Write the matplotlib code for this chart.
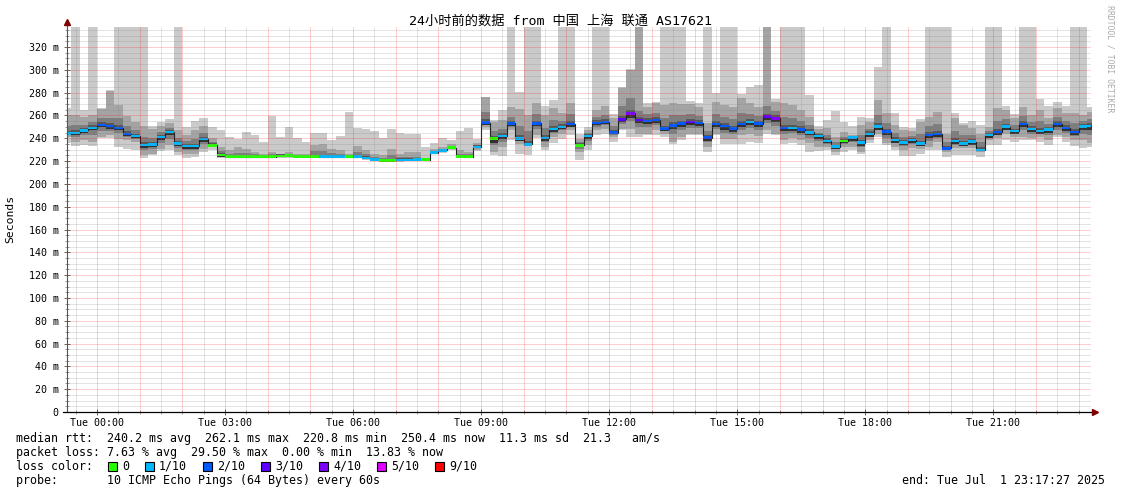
import matplotlib
matplotlib.use('Agg')
import matplotlib.pyplot as plt
import numpy as np
from matplotlib.patches import Rectangle
from matplotlib.lines import Line2D

# ---------------- data (12-minute consolidated steps, first step starts Mon 23:12) -------------
FIRST_STEP_HOUR = -0.8      # hours relative to Tue 00:00
STEP_HOURS = 0.2            # 12 minutes
VIEW_START = -0.7036        # Mon 23:17:47
VIEW_END = 23.2908          # Tue 23:17:27

median = [244.1, 244.7, 246.8, 249.1, 251.8, 250.6, 249.1, 243.8, 242.0, 234.1,
          234.4, 240.9, 245.3, 235.3, 233.0, 233.0, 239.4, 233.8, 225.3, 223.8,
          223.8, 223.8, 223.8, 223.8, 223.8, 224.4, 225.0, 224.2, 224.2, 224.2,
          224.0, 224.0, 224.0, 224.0, 224.0, 222.6, 221.2, 220.6, 220.6, 220.9,
          220.9, 221.2, 221.2, 227.4, 229.4, 231.8, 224.1, 224.0, 232.4, 253.8,
          239.7, 242.0, 253.0, 239.7, 234.7, 253.0, 240.3, 248.0, 250.0, 252.4,
          233.8, 241.8, 253.5, 254.4, 245.0, 256.5, 261.8, 255.9, 255.3, 255.9,
          248.5, 251.2, 253.0, 254.4, 253.5, 240.6, 252.4, 250.6, 248.5, 252.4,
          254.4, 252.9, 258.9, 257.4, 249.2, 249.2, 247.8, 245.2, 242.0, 237.6,
          232.6, 237.6, 240.5, 236.1, 243.7, 250.1, 245.7, 238.4, 236.4, 238.4,
          235.5, 242.9, 243.7, 231.2, 237.6, 235.5, 237.0, 229.7, 242.9, 245.5,
          250.1, 246.3, 252.4, 248.0, 246.3, 247.8, 252.4, 249.2, 245.5, 250.1,
          250.7]

loss_tenths = [1, 1, 1, 1, 2, 2, 2, 2, 1, 1,
               1, 1, 1, 1, 1, 1, 1, 0, 0, 0,
               0, 0, 0, 0, 0, 0, 0, 0, 0, 0,
               1, 1, 1, 0, 1, 1, 1, 0, 0, 1,
               1, 1, 0, 1, 1, 0, 0, 0, 1, 2,
               0, 1, 2, 1, 1, 2, 1, 1, 1, 2,
               0, 1, 2, 2, 2, 3, 4, 3, 2, 2,
               2, 2, 2, 3, 2, 2, 2, 2, 2, 2,
               1, 2, 3, 4, 2, 1, 2, 1, 1, 1,
               1, 0, 1, 1, 1, 1, 2, 1, 1, 1,
               1, 2, 2, 2, 1, 1, 1, 1, 1, 2,
               1, 1, 2, 1, 1, 1, 2, 2, 2, 1,
               1]

smoke_max = [266.2, 345, 264.8, 345, 266.5, 282.0, 345, 345, 345, 345,
             250.7, 254.5, 256.9, 345, 250.2, 255.4, 257.8, 250.2, 247.2, 241.4,
             239.1, 245.5, 242.9, 236.7, 259.8, 241.4, 250.2, 240.5, 236.7, 244.9,
             244.9, 238.5, 242.0, 263.0, 249.3, 247.8, 246.4, 240.0, 247.8, 244.3,
             243.5, 243.5, 232.4, 236.2, 240.3, 238.8, 246.5, 249.1, 239.7, 276.5,
             255.9, 264.7, 345, 280.9, 345, 345, 268.2, 273.5, 345, 345,
             244.1, 250.0, 345, 345, 260.9, 284.5, 300.5, 345, 270.6, 272.0,
             345, 345, 345, 272.5, 270.6, 345, 280.0, 345, 345, 278.5,
             284.6, 287.0, 345, 274.7, 345, 345, 345, 277.9, 250.7, 256.0,
             263.9, 254.5, 250.7, 258.9, 258.0, 302.7, 345, 261.9, 250.2, 249.4,
             256.9, 345, 345, 345, 262.0, 253.6, 255.1, 251.6, 345, 345,
             268.3, 261.0, 345, 345, 274.7, 268.6, 272.0, 268.6, 345, 345,
             267.7]

smoke_min = [235.9, 233.0, 233.8, 233.0, 240.0, 240.5, 232.4, 230.9, 230.0, 222.9,
             225.0, 228.5, 230.0, 225.0, 222.9, 223.5, 227.9, 229.4, 222.9, 222.4,
             222.4, 222.4, 222.4, 222.4, 222.4, 222.4, 222.4, 222.4, 222.4, 222.4,
             222.4, 222.4, 222.4, 222.4, 222.4, 220.6, 219.7, 219.1, 219.1, 219.1,
             219.7, 219.7, 219.7, 226.0, 227.5, 230.0, 222.9, 222.9, 228.8, 247.1,
             225.0, 224.1, 238.8, 226.5, 225.0, 240.0, 230.0, 235.9, 239.7, 242.6,
             220.6, 229.4, 242.6, 244.1, 236.8, 247.1, 241.2, 241.2, 242.6, 242.6,
             241.2, 235.3, 238.2, 242.6, 242.6, 227.9, 242.6, 235.3, 235.3, 235.3,
             236.8, 235.5, 244.1, 242.9, 235.0, 236.0, 234.0, 228.2, 229.0, 229.7,
             225.4, 228.2, 229.7, 226.2, 235.5, 240.7, 234.0, 229.7, 224.5, 224.5,
             226.2, 229.7, 229.7, 224.0, 225.4, 225.4, 225.4, 223.3, 234.0, 234.0,
             238.4, 237.0, 238.4, 238.4, 237.0, 234.0, 241.3, 237.0, 233.5, 231.7,
             232.0]

band2_hi = [260.3, 260.3, 258.8, 260.3, 265.3, 281.5, 269.1, 259.7, 254.4, 250.6,
            248.0, 251.0, 253.0, 247.0, 243.2, 247.0, 250.6, 240.6, 232.4, 230.0,
            232.4, 230.9, 228.0, 226.5, 228.0, 226.5, 228.0, 226.5, 226.5, 233.8,
            235.3, 230.9, 229.4, 226.5, 233.0, 230.0, 226.5, 225.0, 230.9, 226.5,
            228.0, 228.0, 222.0, 230.9, 232.4, 235.3, 229.4, 228.0, 236.0, 275.9,
            254.4, 255.9, 267.1, 265.3, 260.3, 271.2, 260.3, 266.2, 261.8, 271.2,
            239.7, 247.0, 264.7, 268.2, 257.4, 283.8, 300.0, 345, 267.1, 270.6,
            269.1, 270.6, 270.0, 270.0, 267.1, 253.0, 272.0, 269.1, 267.1, 275.0,
            270.6, 267.7, 345, 272.0, 270.6, 269.1, 264.8, 259.0, 248.0, 248.7,
            241.4, 245.7, 242.9, 251.6, 254.0, 273.5, 261.8, 251.6, 247.2, 246.0,
            254.5, 259.0, 263.3, 244.1, 257.4, 251.6, 248.7, 244.1, 250.1, 266.2,
            265.0, 257.4, 267.7, 260.4, 264.8, 257.4, 266.2, 261.8, 261.8, 260.4,
            263.0]

band2_lo = [241.2, 236.8, 238.2, 236.8, 241.2, 242.6, 239.7, 238.2, 236.8, 225.0,
            226.5, 230.9, 233.8, 227.9, 226.5, 226.5, 230.9, 232.4, 223.5, 223.0,
            223.0, 223.0, 223.0, 223.0, 223.0, 223.4, 223.8, 223.2, 223.2, 223.2,
            223.0, 223.0, 223.0, 223.0, 223.0, 221.5, 220.5, 220.0, 220.0, 220.0,
            220.0, 220.6, 220.2, 226.8, 228.4, 230.9, 223.5, 223.5, 229.4, 250.0,
            227.9, 232.4, 247.0, 235.3, 233.8, 242.6, 232.4, 241.2, 244.1, 247.0,
            227.9, 233.8, 247.0, 248.5, 241.2, 248.5, 248.5, 244.1, 244.1, 247.0,
            244.1, 236.8, 241.2, 244.1, 244.1, 232.4, 244.1, 239.7, 239.7, 242.6,
            244.1, 241.6, 247.0, 244.1, 238.4, 239.9, 238.4, 235.5, 232.6, 232.6,
            228.2, 232.6, 232.6, 228.2, 238.4, 244.1, 235.5, 232.6, 229.7, 231.2,
            231.0, 232.6, 237.0, 228.2, 231.2, 231.2, 231.2, 228.2, 238.4, 239.9,
            244.1, 241.3, 241.3, 239.9, 241.3, 238.4, 242.9, 241.3, 238.4, 238.4,
            235.5]

band3_hi = [251, 252, 252, 254, 258, 258, 258, 251, 247.5, 241.5,
            240.5, 245.5, 249, 240.5, 237.5, 239, 244.5, 237, 228.5, 226.5,
            227.5, 226.8, 225.8, 225.3, 225.8, 225.8, 226.5, 225.6, 225.6, 228.5,
            229, 227, 226.5, 225.5, 228, 226, 223.5, 222.5, 225, 223.3,
            224, 224, 222, 229, 230.8, 233.5, 226.5, 226, 234, 263,
            246, 248, 259, 251, 246, 261, 249, 256, 255, 261,
            236.5, 244.5, 258.5, 260.5, 250.5, 268, 275, 264, 261, 262,
            258, 260, 260.5, 261.5, 259.5, 246, 261, 259, 257, 262,
            261.5, 259.5, 268, 264, 259, 258, 255.5, 251.5, 245, 242.5,
            236.5, 241, 242, 243, 248.5, 260, 253, 244.5, 241.5, 242,
            244, 250.5, 252.5, 237, 246.5, 243, 242.5, 236.5, 246.5, 255,
            257, 251.5, 259.5, 254, 255, 252.5, 259, 255, 253, 255,
            256.5]

band3_lo = [242.5, 241, 242.5, 243, 246.5, 246.5, 244.5, 241, 239.5, 229.5,
            230.5, 236, 239.5, 231.5, 230, 230, 235, 232.8, 224.4, 223.3,
            223.3, 223.3, 223.3, 223.3, 223.3, 223.9, 224.5, 223.7, 223.7, 223.7,
            223.5, 223.5, 223.5, 223.5, 223.5, 222.1, 220.7, 220.1, 220.1, 220.4,
            220.4, 220.7, 220.7, 226.9, 228.9, 231.3, 223.6, 223.5, 231.9, 252,
            234, 237, 250, 237.5, 234.2, 248, 236.5, 244.5, 247, 249.5,
            231, 238, 250, 251.5, 243, 252.5, 255, 250, 250, 251.5,
            246.5, 244, 247, 249, 249, 236.5, 248, 245, 244, 247.5,
            249, 247, 253, 251, 244, 244.5, 243, 240.5, 237.5, 235,
            230.5, 235, 236.5, 232, 241, 247, 240.5, 235.5, 233, 235,
            233, 238, 240.5, 229.7, 234.5, 233.5, 234, 229, 240.5, 242.5,
            247, 244, 247, 244, 244, 243, 247.5, 245, 242, 244,
            243]

core_hi = [246.5, 247, 249, 251.5, 254, 253, 252, 246, 244, 236.5,
           236.5, 243, 247.5, 237.5, 235, 235, 241.5, 235.5, 227, 225.3,
           225.3, 225.3, 225.3, 225.3, 225.3, 225.9, 226.5, 225.7, 225.7, 225.7,
           225.5, 225.5, 225.5, 225.5, 225.5, 224.1, 222.7, 222.1, 222.1, 222.4,
           222.4, 222.7, 222.7, 228.9, 230.9, 233.3, 225.6, 225.5, 233.9, 256.5,
           242, 244.5, 255.5, 242.5, 237.5, 255.5, 243, 250.5, 252.5, 255,
           235.5, 243.5, 256, 257, 247.5, 259.5, 264.5, 258.5, 258, 258.5,
           251, 254, 255.5, 257, 256, 243, 255, 253, 251, 255,
           257, 255.5, 261.5, 260, 252, 252, 250.5, 248, 244, 240,
           234.5, 239.5, 242, 238.5, 246, 253, 248.5, 241, 238.5, 240.5,
           238, 245.5, 246.5, 233.5, 240.5, 238, 239.5, 232, 245, 248,
           252.5, 248.5, 255, 250.5, 249, 250, 255, 251.5, 248, 252.5,
           253]

core_lo = [243, 243, 245, 247, 250, 248.5, 247, 242, 240, 231.5,
           232, 238.5, 242.5, 233, 231, 231, 237, 233, 224, 223,
           223, 223, 223, 223, 223, 223.6, 224.2, 223.4, 223.4, 223.4,
           223.2, 223.2, 223.2, 223.2, 223.2, 221.8, 220.4, 220, 220, 220.2,
           220.2, 220.5, 220.5, 226.8, 228.6, 231, 223.5, 223.5, 231.5, 252,
           236, 239, 251, 237.5, 234.2, 250.5, 238, 245.5, 248, 250,
           232, 239.5, 251.5, 252.5, 243.5, 254, 258, 253, 252.5, 253,
           246.5, 248, 250, 251.5, 251, 238, 249.5, 247.5, 245.5, 249.5,
           251.5, 250, 256, 254.5, 246, 246.5, 245, 242.5, 239.5, 235.5,
           230.5, 235.5, 238, 233.5, 241.5, 247.5, 243, 236, 234, 236,
           233.5, 240, 241, 229.7, 235, 233.5, 234.5, 229, 240.5, 243,
           247.5, 244, 249.5, 245.5, 244, 245, 249.5, 246.5, 243, 247,
           247.5]

loss_levels = [0, 1, 2, 3, 4, 5, 9]
loss_labels = ['0', '1/10', '2/10', '3/10', '4/10', '5/10', '9/10']
loss_colors = ['#26ff00', '#00b8ff', '#0059ff', '#5e00ff', '#7e00ff', '#dd00ff', '#ff0000']

title = '24小时前的数据 from 中国 上海 联通 AS17621'
ylabel = 'Seconds'
xtick_hours = [0, 3, 6, 9, 12, 15, 18, 21]
xtick_labels = ['Tue 00:00', 'Tue 03:00', 'Tue 06:00', 'Tue 09:00',
                'Tue 12:00', 'Tue 15:00', 'Tue 18:00', 'Tue 21:00']
ytick_values = list(range(0, 321, 20))
legend_lines = [
    'median rtt:  240.2 ms avg  262.1 ms max  220.8 ms min  250.4 ms now  11.3 ms sd  21.3   am/s',
    'packet loss: 7.63 % avg  29.50 % max  0.00 % min  13.83 % now',
    'loss color:',
    'probe:       10 ICMP Echo Pings (64 Bytes) every 60s',
]
end_text = 'end: Tue Jul  1 23:17:27 2025'
credit = 'RRDTOOL / TOBI OETIKER'

# ---------------- figure ----------------
MONO = ['DejaVu Sans Mono', 'Noto Sans CJK SC']
plt.rcParams['font.family'] = MONO
W, H = 1121, 494
fig = plt.figure(figsize=(W / 100, H / 100), dpi=100)
fig.patch.set_facecolor('white')
PL, PR, PB, PT = 67, 1091, 412, 27.5
ax = fig.add_axes([PL / W, (H - PB) / H, (PR - PL) / W, (PB - PT) / H])
ax.set_facecolor('white')
YMAX = 337.1
ax.set_xlim(VIEW_START, VIEW_END)
ax.set_ylim(0, YMAX)

n = len(median)
starts = FIRST_STEP_HOUR + STEP_HOURS * np.arange(n)
edges = np.append(starts, starts[-1] + STEP_HOURS)


def ext(a):
    a = np.asarray(a, dtype=float)
    return np.append(a, a[-1])


layers = [(smoke_min, smoke_max, '#cacaca'),
          (band2_lo, band2_hi, '#a4a4a4'),
          (band3_lo, band3_hi, '#7e7e7e'),
          (core_lo, core_hi, '#585858'),
          (core_lo, median, '#323232')]
for lo, hi, col in layers:
    ax.fill_between(edges, ext(lo), ext(hi), step='post', color=col, linewidth=0, zorder=2)

ax.step(edges, ext(median), where='post', color='#202020', lw=0.8, zorder=3)

cmap = dict(zip(loss_levels, loss_colors))
bar_cols = [cmap[v] for v in loss_tenths]
med = np.asarray(median)
ax.bar(starts, 2.2, bottom=med - 1.1, width=STEP_HOURS, align='edge',
       color=bar_cols, linewidth=0, zorder=4)

# grid (dotted, drawn on top like rrdtool)
hours = np.arange(0, 24)
halfs = np.arange(-0.5, 23.5, 1.0)
minor_y = [v for v in np.arange(5, YMAX, 5) if v % 20 != 0]
major_y = list(range(20, 321, 20))
RED = (1.0, 0.0, 0.0, 0.38)
GRAY = (0.5, 0.5, 0.5, 0.42)
gkw = dict(lw=0.72, dashes=(1, 1), zorder=5, snap=True, dash_capstyle='butt')
for h in halfs:
    ax.plot([h, h], [0, YMAX], color=GRAY, **gkw)
for h in hours:
    ax.plot([h, h], [0, YMAX], color=RED, **gkw)
for v in minor_y:
    ax.plot([VIEW_START, VIEW_END], [v, v], color=GRAY, **gkw)
for v in major_y:
    ax.plot([VIEW_START, VIEW_END], [v, v], color=RED, **gkw)

# ticks
ax.set_yticks(ytick_values)
ax.set_yticklabels(['0' if v == 0 else '%d m' % v for v in ytick_values])
ax.set_yticks(minor_y, minor=True)
ax.set_xticks(xtick_hours)
ax.set_xticklabels(xtick_labels)
ax.set_xticks(np.arange(-0.5, 23.3, 0.5), minor=True)
ax.tick_params(axis='both', which='major', direction='inout', length=4, width=0.7,
               color='#666666', labelsize=7.2, labelcolor='black')
ax.tick_params(axis='both', which='minor', direction='inout', length=2.5, width=0.6, color='#888888')
ax.tick_params(axis='y', which='major', pad=4)
ax.tick_params(axis='x', which='major', pad=2.5)
for s in ax.spines.values():
    s.set_visible(False)

# axis lines with arrows
top_ext = 1 + 5.5 / (PB - PT)
ax.add_line(Line2D([0, 0], [0, top_ext], transform=ax.transAxes, color='#555555', lw=0.8, clip_on=False, zorder=6))
ax.add_line(Line2D([-4 / 1024, 1 + 2 / 1024], [0, 0], transform=ax.transAxes, color='black', lw=0.9, clip_on=False, zorder=6))
ax.plot([0], [top_ext], marker='^', color='#800000', markersize=4.5, transform=ax.transAxes, clip_on=False, zorder=7)
ax.plot([1 + 4 / 1024], [0], marker='>', color='#800000', markersize=4.5, transform=ax.transAxes, clip_on=False, zorder=7)

# texts
fig.text(560.5 / W, 1 - 21 / H, title, ha='center', va='center', fontsize=9.5, family=MONO)
fig.text(10 / W, 1 - 219 / H, ylabel, ha='center', va='center', rotation=90, fontsize=8.2)
fig.text(1110 / W, 1 - 59 / H, credit, ha='center', va='center', rotation=270, fontsize=5.9, color='#aaaaaa')

ly = [438, 452, 466, 480]
for txt, y in zip(legend_lines, ly):
    fig.text(16 / W, 1 - y / H, txt, ha='left', va='center', fontsize=8.4)
fig.text(1105 / W, 1 - 480 / H, end_text, ha='right', va='center', fontsize=8.4)

box_x = [108, 145, 203, 261, 319, 377, 435]
for bx, col, lab in zip(box_x, loss_colors, loss_labels):
    fig.add_artist(Rectangle((bx / W, 1 - 470.5 / H), 9 / W, 9 / H, transform=fig.transFigure,
                             facecolor=col, edgecolor='black', lw=0.8))
    fig.text((bx + 14) / W, 1 - 466 / H, lab, ha='left', va='center', fontsize=8.4)

fig.savefig('out.png', dpi=100, facecolor='white')
